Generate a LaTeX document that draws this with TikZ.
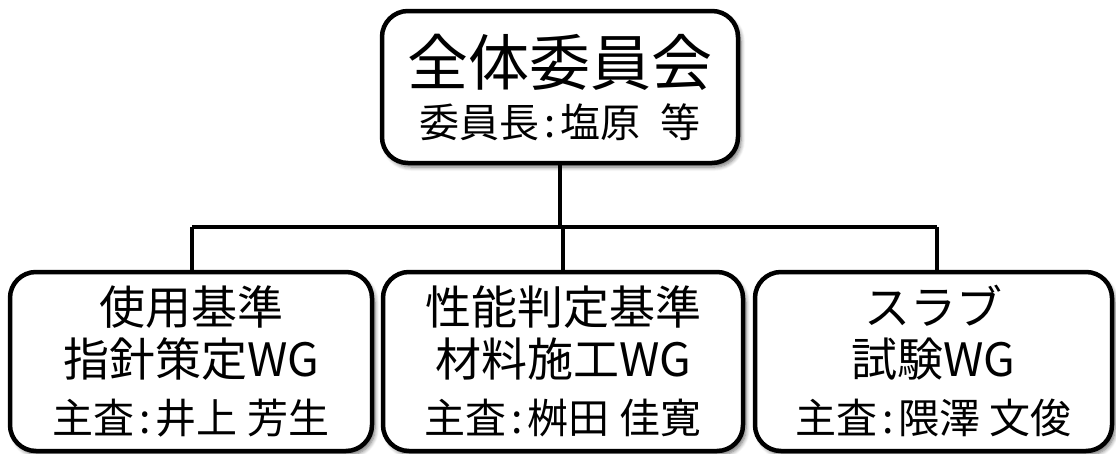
\documentclass[tikz,border=0pt]{standalone}
\usepackage{fontspec}
\setmainfont{Noto Sans CJK JP}
\usetikzlibrary{shadows.blur}
\tikzset{
  box/.style={draw=black, line width=4.5pt, fill=white, rounded corners=26pt,
    align=center, inner sep=0pt,
    blur shadow={shadow xshift=3pt, shadow yshift=-4pt, shadow blur radius=4pt, shadow blur steps=6, shadow opacity=55}},
  topbox/.style={box, font=\fontsize{40}{60}\selectfont},
  wgbox/.style={box, font=\fontsize{46}{57}\selectfont},
  conn/.style={draw=black, line width=3.5pt}
}
\newcommand{\titlefont}{\fontsize{61}{60}\selectfont}
\newcommand{\chfont}{\fontsize{41}{57}\selectfont}
\newcommand{\cln}{\hspace{0.12em}:\hspace{0.12em}}
\begin{document}
\begin{tikzpicture}[x=1pt,y=-1pt]
\useasboundingbox (0,0) rectangle (1116,453);
\node[topbox, minimum width=356pt, minimum height=152pt] (top) at (560,87)
  {\titlefont 全体委員会\\[-8pt]委員長\cln 塩原\hspace{0.5em}等};
\node[wgbox, minimum width=362pt, minimum height=179pt] (left) at (191,361.5)
  {使用基準\\[-5pt]指針策定WG\\\chfont 主査\cln 井上 芳生};
\node[wgbox, minimum width=360pt, minimum height=179pt] (mid) at (563,361.5)
  {性能判定基準\\[-5pt]材料施工WG\\\chfont 主査\cln 桝田 佳寛};
\node[wgbox, minimum width=357pt, minimum height=179pt] (right) at (933.5,361.5)
  {スラブ\\[-5pt]試験WG\\\chfont 主査\cln 隈澤 文俊};
\coordinate (busL) at (192,227);
\coordinate (busR) at (937,227);
\draw[conn] (busL) -- (busR);
\draw[conn] (top.south) -- (top.south |- busL);
\draw[conn] ([xshift=1pt]left.north) -- ([xshift=1pt]left.north |- busL);
\draw[conn] (mid.north) -- (mid.north |- busL);
\draw[conn] ([xshift=3.5pt]right.north) -- ([xshift=3.5pt]right.north |- busL);
\end{tikzpicture}
\end{document}
